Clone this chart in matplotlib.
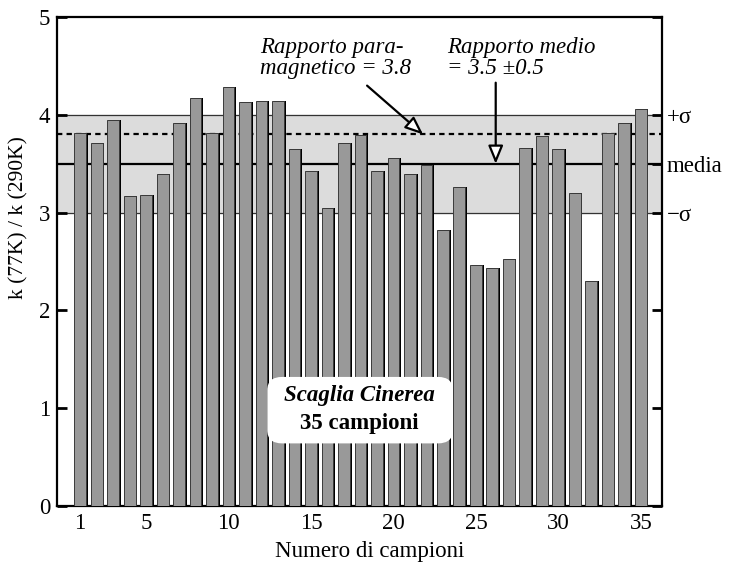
import numpy as np
import matplotlib.pyplot as plt
from matplotlib.patches import FancyBboxPatch

plt.rcParams["font.family"] = ["Liberation Serif", "DejaVu Serif"]

# campioni 1..35, rapporto k(77K)/k(290K)
campioni = np.arange(1, 36)
rapporto = [3.82, 3.71, 3.95, 3.17, 3.18, 3.40, 3.92, 4.17, 3.82, 4.29,
            4.13, 4.14, 4.14, 3.65, 3.43, 3.05, 3.71, 3.79, 3.43, 3.56,
            3.40, 3.49, 2.82, 3.26, 2.47, 2.43, 2.53, 3.66, 3.78, 3.65,
            3.20, 2.30, 3.82, 3.92, 4.06]
media = 3.5
sigma = 0.5
paramagnetico = 3.8
x_ticks = [1, 5, 10, 15, 20, 25, 30, 35]

FS = 16.5

fig = plt.figure(figsize=(7.31, 5.73), dpi=100)
ax = fig.add_axes([0.078, 0.117, 0.828, 0.853])

# banda +/- sigma
ax.axhspan(media - sigma, media + sigma, color="#dcdcdc", zorder=0)
ax.axhline(media + sigma, color="#333333", lw=0.9, zorder=1)
ax.axhline(media - sigma, color="#333333", lw=0.9, zorder=1)
ax.axhline(media, color="black", lw=1.6, zorder=1)
ax.axhline(paramagnetico, color="black", lw=1.6, dashes=(2.4, 1.9), zorder=1)

# barre con ombra
ax.bar(campioni + 0.1, rapporto, width=0.72, color="black", zorder=2)
ax.bar(campioni, rapporto, width=0.72, color="#999999",
       edgecolor="#3a3a3a", linewidth=0.7, zorder=3)

ax.set_xlim(-0.4, 36.3)
ax.set_ylim(0, 5)
ax.set_xticks(x_ticks)
ax.set_yticks(range(6))
ax.tick_params(axis="x", length=0, labelsize=FS, pad=5)
ax.tick_params(axis="y", direction="in", length=7, width=2, labelsize=FS, pad=5)
for s in ax.spines.values():
    s.set_linewidth(1.6)

ax.set_xlabel("Numero di campioni", fontsize=FS, labelpad=5, x=0.517)
ax.set_ylabel("k (77K) / k (290K)", fontsize=FS - 1)
ax.yaxis.set_label_coords(-0.047, 0.59)

# asse destro
ax2 = ax.twinx()
ax2.set_ylim(0, 5)
ax2.set_yticks([0, 1, 2, media - sigma, media, media + sigma, 5])
ax2.set_yticklabels(["", "", "", "\u2212\u03c3", "media", "+\u03c3", ""])
ax2.tick_params(axis="y", direction="in", length=7, width=2, labelsize=FS, pad=3)
for s in ax2.spines.values():
    s.set_visible(False)

# annotazioni
ax.text(11.9, 4.58, "Rapporto para-\nmagnetico = 3.8", fontsize=FS,
        style="italic", ha="left", va="center", linespacing=1.0)
ax.text(23.25, 4.58, "Rapporto medio\n= 3.5 \u00b10.5", fontsize=FS,
        style="italic", ha="left", va="center", linespacing=1.0)
arrow = dict(arrowstyle="-|>,head_length=1.1,head_width=0.45",
             fc="white", ec="black", lw=1.6, shrinkA=0, shrinkB=0)
ax.annotate("", xy=(21.8, paramagnetico), xytext=(18.4, 4.30),
            arrowprops=arrow, zorder=5)
ax.annotate("", xy=(26.2, media), xytext=(26.2, 4.33),
            arrowprops=arrow, zorder=5)

box = FancyBboxPatch((12.35, 0.64), 11.25, 0.68,
                     boxstyle="round,pad=0,rounding_size=0.9",
                     fc="white", ec="none", zorder=6,
                     mutation_aspect=0.15)
ax.add_patch(box)
ax.text(17.95, 1.13, "Scaglia Cinerea", fontsize=FS, style="italic",
        weight="bold", ha="center", va="center", zorder=7)
ax.text(17.95, 0.84, "35 campioni", fontsize=FS, weight="bold",
        ha="center", va="center", zorder=7)

fig.savefig("out.png", dpi=100)
